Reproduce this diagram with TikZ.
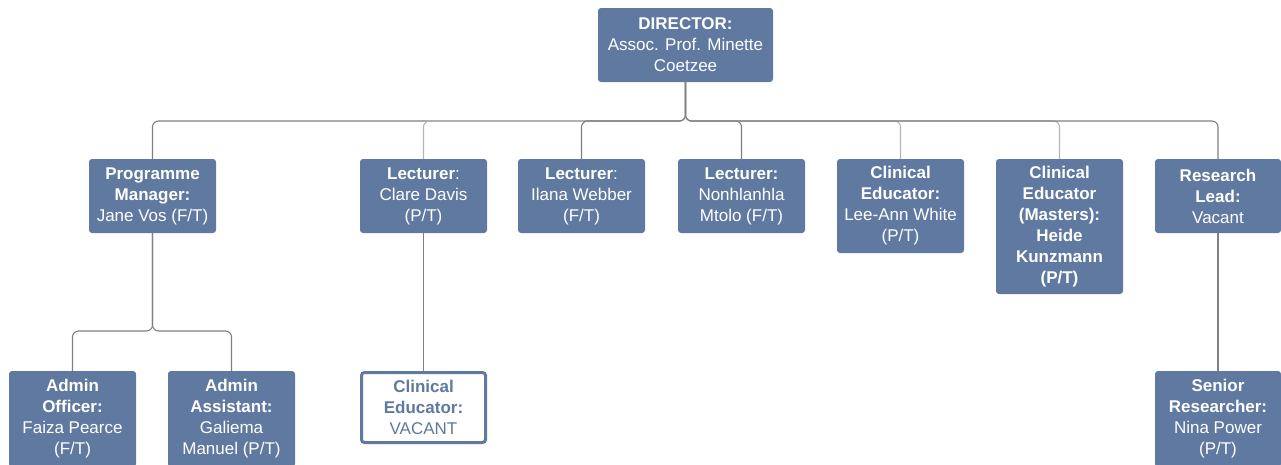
\documentclass[tikz,border=0pt]{standalone}
\usepackage{fontspec}
\setmainfont{Liberation Sans}
\definecolor{boxblue}{HTML}{6079A1}
\definecolor{linegray}{HTML}{808080}
\definecolor{lightline}{HTML}{B4B4B4}
\begin{document}
\begin{tikzpicture}[x=1pt,y=1pt,
  orgbox/.style={draw=none,fill=boxblue,rounded corners=3pt,text=white,align=center,
    minimum width=127pt,inner sep=0pt,font=\fontsize{17}{21}\selectfont},
  vacbox/.style={draw=boxblue,line width=3pt,fill=white,rounded corners=3pt,text=boxblue,align=center,
    minimum width=124pt,inner sep=0pt,font=\fontsize{17}{21}\selectfont},
  conn/.style={draw=linegray,line width=1.1pt,rounded corners=6pt},
  lconn/.style={draw=lightline,line width=1.1pt,rounded corners=6pt}]
\useasboundingbox (0,0) rectangle (1281,-464);
\node[orgbox,minimum width=175pt,minimum height=74pt] (dir) at (685.5,-45) {\textbf{DIRECTOR:}\\Assoc. Prof. Minette\\Coetzee};
\node[orgbox,minimum height=74pt] (pm) at (152.5,-196) {\textbf{Programme}\\\textbf{Manager:}\\Jane Vos (F/T)};
\node[orgbox,minimum height=74pt] (lc) at (423.5,-196) {\textbf{Lecturer}:\\Clare Davis\\(P/T)};
\node[orgbox,minimum height=74pt] (li) at (581.5,-196) {\textbf{Lecturer}:\\Ilana Webber\\(F/T)};
\node[orgbox,minimum height=74pt] (ln) at (741.5,-196) {\textbf{Lecturer:}\\Nonhlanhla\\Mtolo (F/T)};
\node[orgbox,minimum height=94pt] (ce) at (900.5,-206) {\textbf{Clinical}\\\textbf{Educator:}\\Lee-Ann White\\(P/T)};
\node[orgbox,minimum height=135pt] (cm) at (1059.5,-226.5) {\textbf{Clinical}\\\textbf{Educator}\\\textbf{(Masters):}\\\textbf{Heide}\\\textbf{Kunzmann}\\\textbf{(P/T)}};
\node[orgbox,minimum width=126pt,minimum height=74pt] (rl) at (1218,-196) {\textbf{Research}\\\textbf{Lead:}\\Vacant};
\node[orgbox,minimum height=96pt] (ao) at (72.5,-419) {\textbf{Admin}\\\textbf{Officer:}\\Faiza Pearce\\(F/T)};
\node[orgbox,minimum height=96pt] (aa) at (231.5,-419) {\textbf{Admin}\\\textbf{Assistant:}\\Galiema\\Manuel (P/T)};
\node[vacbox,minimum height=70pt] (cv) at (423.5,-407.5) {\textbf{Clinical}\\\textbf{Educator:}\\VACANT};
\node[orgbox,minimum width=126pt,minimum height=96pt] (sr) at (1218,-419) {\textbf{Senior}\\\textbf{Researcher:}\\Nina Power\\(P/T)};
% director bus
\coordinate (bus) at (685.5,-121);
\draw[conn] (dir.south) -- (bus) -| (pm.north);
\draw[lconn] (dir.south) -- (bus) -| (lc.north);
\draw[conn] (dir.south) -- (bus) -| (li.north);
\draw[conn] (dir.south) -- (bus) -| (ln.north);
\draw[lconn] (dir.south) -- (bus) -| (ce.north);
\draw[lconn] (dir.south) -- (bus) -| (cm.north);
\draw[conn] (dir.south) -- (bus) -| (rl.north);
% programme manager bus
\coordinate (pmbus) at (152.5,-331);
\draw[conn] (pm.south) -- (pmbus) -| (ao.north);
\draw[conn] (pm.south) -- (pmbus) -| (aa.north);
\draw[conn] (lc.south) -- (cv.north);
\draw[conn] (rl.south) -- (sr.north);
\end{tikzpicture}
\end{document}
